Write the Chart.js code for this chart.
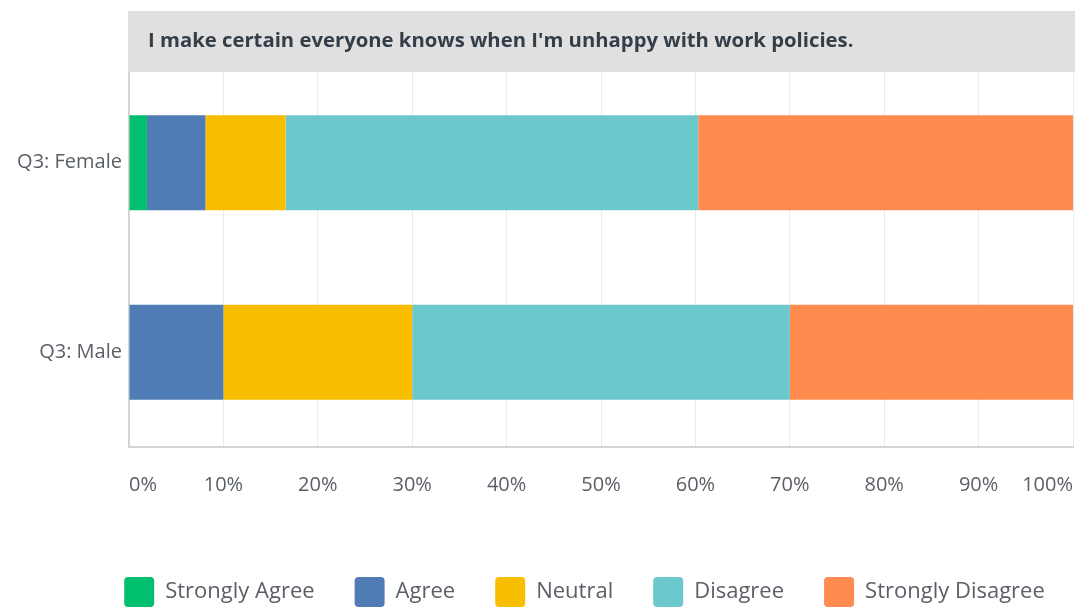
<!DOCTYPE html>
<html>
<head>
<meta charset="utf-8">
<script src="https://cdn.jsdelivr.net/npm/chart.js@4.4.1/dist/chart.umd.min.js"></script>
<style>
  html, body { margin: 0; padding: 0; background: #fff; }
  #wrap { width: 1078px; height: 614px; position: relative; }
</style>
</head>
<body>
<div id="wrap"><canvas id="chart"></canvas></div>
<script>
const questionTitle = "I make certain everyone knows when I'm unhappy with work policies.";
const categories = ["Q3: Female", "Q3: Male"];
const answerLabels = ["Strongly Agree", "Agree", "Neutral", "Disagree", "Strongly Disagree"];
const answerColors = ["#00bf6f", "#507cb6", "#f9be00", "#6bc8cd", "#ff8b4f"];

// percentages per category, in answer order
const stronglyAgree = [1.9, 0];
const agree = [6.2, 10];
const neutral = [8.5, 20];
const disagree = [43.7, 40];
const stronglyDisagree = [39.7, 30];

const tickValues = [0, 10, 20, 30, 40, 50, 60, 70, 80, 90, 100];

const seriesValues = [stronglyAgree, agree, neutral, disagree, stronglyDisagree];

const labelFont = "'Open Sans', sans-serif";
const textColor = "#5b6067";
const legendPadding = 40;

// grey header strip with the question, drawn over the top of the grid
const questionHeader = {
  id: "questionHeader",
  beforeDatasetsDraw(chart) {
    const { ctx, chartArea } = chart;
    ctx.save();
    ctx.fillStyle = "#e0e0e0";
    ctx.fillRect(chartArea.left - 1, 11, chartArea.right - chartArea.left + 3, 61);
    ctx.fillStyle = "#333e48";
    ctx.font = "bold 20.3px 'Open Sans', sans-serif";
    ctx.textBaseline = "middle";
    ctx.textAlign = "left";
    ctx.fillText(questionTitle, chartArea.left + 19, 41);
    ctx.restore();
  }
};

// legend is centred a bit right of the canvas middle
const legendShift = {
  id: "legendShift",
  afterLayout(chart) {
    chart.legend.left += 48;
    chart.legend.right += 48;
  }
};

const datasets = answerLabels.map((label, i) => ({
  label,
  data: seriesValues[i],
  backgroundColor: answerColors[i],
  borderWidth: 0,
  categoryPercentage: 1,
  barPercentage: 0.501
}));

new Chart(document.getElementById("chart"), {
  type: "bar",
  data: { labels: categories, datasets },
  plugins: [questionHeader, legendShift],
  options: {
    indexAxis: "y",
    responsive: true,
    maintainAspectRatio: false,
    animation: false,
    layout: { padding: { top: 68, right: 5, left: 0, bottom: -3 } },
    scales: {
      x: {
        stacked: true,
        min: 0,
        max: 100,
        afterBuildTicks(scale) {
          scale.ticks = tickValues.map(v => ({ value: v }));
        },
        afterFit(scale) {
          scale.height = 130 - legendPadding;
          scale.paddingLeft = 0;
          scale.paddingRight = 0;
        },
        grid: { color: "#ebebeb", lineWidth: 1, drawTicks: false },
        border: { color: "#d4d4d4", width: 2 },
        ticks: {
          align: "inner",
          padding: 26,
          color: textColor,
          font: { family: labelFont, size: 20 },
          callback: v => v + "%"
        }
      },
      y: {
        stacked: true,
        afterFit(scale) { scale.width = 129; },
        grid: { display: false, drawTicks: false },
        border: { color: "#d4d4d4", width: 2 },
        ticks: {
          padding: 7,
          color: textColor,
          font: { family: labelFont, size: 20 }
        }
      }
    },
    plugins: {
      legend: {
        position: "bottom",
        onClick: null,
        labels: {
          boxWidth: 30,
          boxHeight: 30,
          padding: legendPadding,
          color: textColor,
          font: { family: labelFont, size: 22 },
          generateLabels(chart) {
            return chart.data.datasets.map((ds, i) => ({
              text: ds.label,
              fillStyle: ds.backgroundColor,
              strokeStyle: ds.backgroundColor,
              lineWidth: 0,
              borderRadius: 4,
              fontColor: textColor,
              datasetIndex: i
            }));
          }
        }
      },
      tooltip: { enabled: false }
    }
  }
});
</script>
</body>
</html>
